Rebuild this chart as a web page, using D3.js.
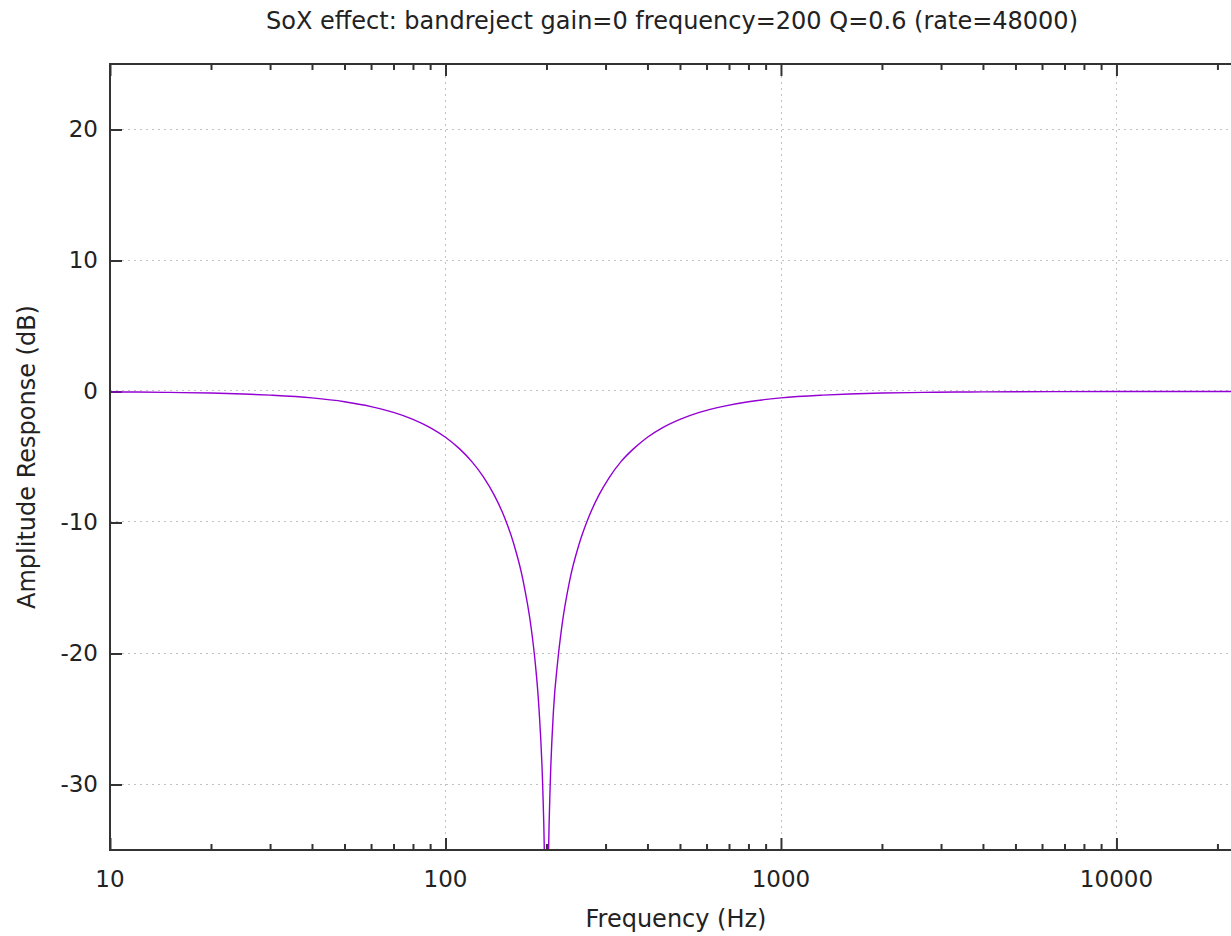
<!DOCTYPE html>
<html>
<head>
<meta charset="utf-8">
<script src="https://cdnjs.cloudflare.com/ajax/libs/d3/7.8.5/d3.min.js"></script>
<style>
    body { margin: 0; background: #fff; }
    svg text { font-family: "DejaVu Sans", sans-serif; fill: #222; }
</style>
</head>
<body>
<svg id="chart" width="1231" height="936"></svg>
<script>
// response (Hz, dB)
var freqs = [10, 12, 15, 20, 25, 30, 40, 50, 60, 70, 80, 90, 100, 110, 120, 130, 140, 150,
    160, 170, 180, 185, 190, 195, 197, 199, 200, 201, 203, 205, 210, 216, 222, 235, 250,
    267, 286, 308, 333, 364, 400, 444, 500, 571, 667, 800, 1000, 1333, 1600, 2000, 2667,
    3333, 4000, 10000, 24000];
var gains = [-0.03, -0.04, -0.07, -0.12, -0.19, -0.28, -0.49, -0.78, -1.15, -1.59, -2.12,
    -2.75, -3.49, -4.36, -5.37, -6.55, -7.95, -9.62, -11.68, -14.32, -18.02, -20.61, -24.23,
    -30.35, -34.83, -44.4, -80, -44.4, -34.83, -30.35, -24.23, -20.61, -18.02, -14.32, -11.68,
    -9.62, -7.95, -6.55, -5.37, -4.36, -3.49, -2.75, -2.12, -1.59, -1.15, -0.78, -0.49, -0.28,
    -0.19, -0.12, -0.07, -0.04, -0.03, -0.005, 0];
var xMajor = [10, 100, 1000, 10000];
var xMinor = [20, 30, 40, 50, 60, 70, 80, 90, 200, 300, 400, 500, 600, 700, 800, 900,
    2000, 3000, 4000, 5000, 6000, 7000, 8000, 9000, 20000];
var yTicks = [-30, -20, -10, 0, 10, 20];

var title = "SoX effect: bandreject gain=0 frequency=200 Q=0.6 (rate=48000)";

var svg = d3.select("#chart");
var pLeft = 110, pTop = 64, pBottom = 850, pRight = 1244;

var x = d3.scaleLog().domain([10, 24000]).range([pLeft, pRight]);
var y = d3.scaleLinear().domain([-35, 25]).range([pBottom, pTop]);

svg.append("defs").append("clipPath").attr("id", "plotclip")
    .append("rect")
    .attr("x", pLeft).attr("y", pTop)
    .attr("width", pRight - pLeft).attr("height", pBottom - pTop);

// dotted grid
var grid = svg.append("g")
    .attr("stroke", "#c2c2c2")
    .attr("stroke-width", 1)
    .attr("stroke-dasharray", "2,4");
grid.selectAll(".gy")
    .data(yTicks)
    .enter()
    .append("line")
    .attr("x1", pLeft).attr("x2", pRight)
    .attr("y1", function (d) { return Math.round(y(d)) - 0.5; })
    .attr("y2", function (d) { return Math.round(y(d)) - 0.5; });
grid.selectAll(".gx")
    .data(xMajor.slice(1))
    .enter()
    .append("line")
    .attr("y1", pTop).attr("y2", pBottom)
    .attr("x1", function (d) { return Math.round(x(d)) + 0.5; })
    .attr("x2", function (d) { return Math.round(x(d)) + 0.5; });

// axes, gnuplot style: ticks pointing inward, mirrored on top
var tickFmt = function (d) { return String(d); };
var noDomain = function (g) { g.select(".domain").remove(); };

svg.append("g")
    .attr("transform", "translate(0," + pBottom + ")")
    .call(d3.axisTop(x).tickValues(xMajor).tickSize(12).tickFormat(""))
    .call(noDomain);
svg.append("g")
    .attr("transform", "translate(0," + pBottom + ")")
    .call(d3.axisTop(x).tickValues(xMinor).tickSize(6).tickFormat(""))
    .call(noDomain);
svg.append("g")
    .attr("transform", "translate(0," + pTop + ")")
    .call(d3.axisBottom(x).tickValues(xMajor).tickSize(12).tickFormat(""))
    .call(noDomain);
svg.append("g")
    .attr("transform", "translate(0," + pTop + ")")
    .call(d3.axisBottom(x).tickValues(xMinor).tickSize(6).tickFormat(""))
    .call(noDomain);
svg.append("g")
    .attr("transform", "translate(" + pLeft + ",0)")
    .call(d3.axisRight(y).tickValues(yTicks).tickSize(12).tickFormat(""))
    .call(noDomain);

svg.selectAll(".tick line").attr("stroke", "#333").attr("stroke-width", 2);

// tick labels
svg.append("g")
    .selectAll("text")
    .data(xMajor)
    .enter()
    .append("text")
    .attr("x", function (d) { return x(d); })
    .attr("y", 887)
    .attr("text-anchor", "middle")
    .style("font-size", "23px")
    .text(tickFmt);
svg.append("g")
    .selectAll("text")
    .data(yTicks)
    .enter()
    .append("text")
    .attr("x", 98)
    .attr("y", function (d) { return y(d); })
    .attr("dy", "0.33em")
    .attr("text-anchor", "end")
    .style("font-size", "23px")
    .text(tickFmt);

// curve
var line = d3.line()
    .x(function (d) { return x(d[0]); })
    .y(function (d) { return y(d[1]); })
    .curve(d3.curveMonotoneX);

svg.append("path")
    .datum(d3.zip(freqs, gains))
    .attr("clip-path", "url(#plotclip)")
    .attr("fill", "none")
    .attr("stroke", "#9400d3")
    .attr("stroke-width", 1.4)
    .attr("d", line);

// frame
svg.append("path")
    .attr("fill", "none")
    .attr("stroke", "#333")
    .attr("stroke-width", 2)
    .attr("d", "M" + pRight + "," + pTop + "H" + pLeft + "V" + pBottom + "H" + pRight + "V" + pTop);

svg.append("text")
    .attr("x", 672)
    .attr("y", 29)
    .attr("text-anchor", "middle")
    .style("font-size", "24px")
    .text(title);

svg.append("text")
    .attr("x", 676)
    .attr("y", 927)
    .attr("text-anchor", "middle")
    .style("font-size", "24px")
    .text("Frequency (Hz)");

svg.append("text")
    .attr("transform", "translate(35,457) rotate(-90)")
    .attr("text-anchor", "middle")
    .style("font-size", "24px")
    .text("Amplitude Response (dB)");
</script>
</body>
</html>
